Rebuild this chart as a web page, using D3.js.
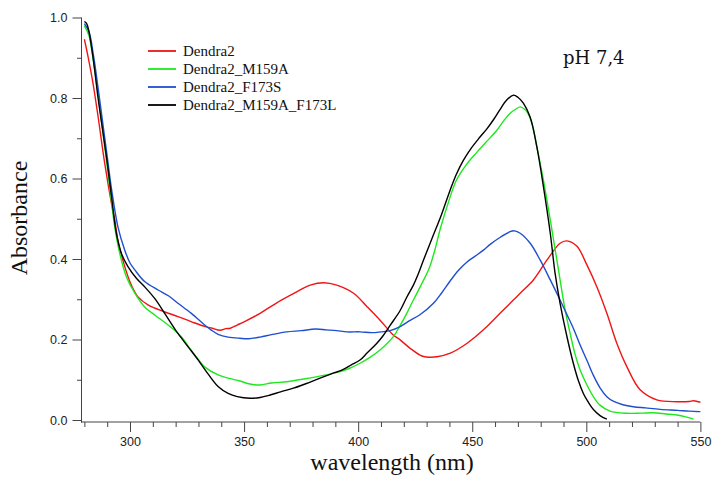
<!DOCTYPE html>
<html>
<head>
<meta charset="utf-8">
<script src="https://cdn.jsdelivr.net/npm/d3@7"></script>
<style>
  html, body { margin: 0; padding: 0; background: #fff; }
  svg { display: block; }
</style>
</head>
<body>
<svg id="chart" width="713" height="487"></svg>
<script>
// ---- data (wavelength nm, absorbance) ----
const seriesNames = ["Dendra2", "Dendra2_M159A", "Dendra2_F173S", "Dendra2_M159A_F173L"];
const seriesColors = ["#f01515", "#1ee81e", "#1f4fd0", "#000000"];

const dendra2 = [[280,0.946],[281.6,0.903],[283.8,0.836],[286,0.754],[288.9,0.638],[291.8,0.540],[293.3,0.497],[294.7,0.447],[297.7,0.381],[300.6,0.335],[303.5,0.306],[307.9,0.286],[315,0.269],[321,0.257],[327,0.244],[333,0.232],[336,0.228],[339.5,0.223],[342,0.227],[344,0.228],[347,0.236],[350,0.244],[357,0.265],[364,0.29],[372,0.315],[379,0.335],[385,0.341],[390.6,0.335],[398,0.315],[404,0.281],[409.6,0.248],[415.4,0.211],[418.4,0.199],[422.8,0.178],[427.9,0.159],[431,0.156],[434.5,0.157],[440.4,0.166],[447.6,0.19],[454.9,0.224],[462.2,0.265],[468,0.298],[471,0.315],[476.8,0.348],[482.7,0.397],[488.5,0.439],[491.4,0.445],[495.8,0.432],[500.2,0.386],[504.6,0.331],[509,0.265],[513.4,0.19],[517.8,0.132],[523.6,0.075],[530.9,0.050],[539.7,0.0455],[545,0.046],[547,0.048],[550,0.044]];

const m159a = [[280,0.98],[282,0.955],[284,0.89],[286,0.81],[288,0.72],[290,0.63],[291.8,0.547],[293.3,0.48],[295.5,0.414],[298.4,0.356],[302.1,0.315],[306.4,0.281],[310.8,0.261],[316.7,0.236],[322.5,0.207],[326.2,0.178],[330,0.15],[332.7,0.132],[338.6,0.112],[343,0.104],[348.2,0.097],[352,0.09],[357,0.087],[362,0.092],[368.7,0.095],[374,0.1],[380.4,0.106],[386,0.112],[392.1,0.12],[396,0.128],[400.8,0.141],[405,0.155],[409.6,0.174],[415.4,0.207],[418.4,0.235],[421.3,0.265],[424.2,0.298],[428,0.34],[431,0.375],[433.5,0.42],[436,0.475],[439.5,0.54],[443,0.595],[447.5,0.635],[452,0.665],[456,0.69],[460.8,0.72],[464,0.745],[466.6,0.762],[469,0.772],[471,0.778],[473,0.772],[474.6,0.76],[476.5,0.73],[478.3,0.679],[481.2,0.596],[484.2,0.497],[487.1,0.397],[488.5,0.348],[490.5,0.28],[492.9,0.215],[495,0.165],[497.3,0.124],[500,0.09],[503.1,0.058],[506,0.037],[510.4,0.022],[517.8,0.0166],[524,0.017],[529.4,0.018],[535,0.015],[539.7,0.0124],[544,0.007],[547,0.002]];

const f173s = [[280,0.985],[282,0.965],[284,0.905],[286,0.825],[288,0.74],[290,0.655],[292,0.57],[294.7,0.48],[297.7,0.422],[300,0.39],[302.1,0.373],[306.4,0.344],[312.3,0.323],[317,0.308],[321,0.29],[326.9,0.265],[332.7,0.236],[335.5,0.224],[338.6,0.213],[343,0.206],[348.2,0.203],[352,0.202],[357,0.206],[362,0.212],[368.7,0.219],[375,0.222],[381.3,0.226],[386,0.224],[390.6,0.222],[395,0.219],[400.8,0.219],[406,0.217],[410,0.219],[414,0.222],[418.4,0.232],[422,0.245],[427.2,0.262],[433,0.29],[436.5,0.315],[440.4,0.346],[444,0.372],[447.6,0.392],[451,0.406],[454.9,0.422],[458,0.437],[462.3,0.454],[466.6,0.468],[468.5,0.47],[471,0.464],[475.4,0.439],[479.8,0.397],[484.2,0.348],[488.5,0.298],[491.4,0.263],[494.3,0.228],[497,0.19],[500.2,0.149],[503,0.112],[506,0.08],[509,0.058],[512,0.046],[516,0.038],[520.6,0.033],[526,0.030],[532.4,0.0265],[540,0.024],[545,0.022],[550,0.0207]];

const m159aF173l = [[280,0.99],[281,0.985],[282,0.965],[283.3,0.92],[284.5,0.87],[286,0.80],[288,0.72],[290,0.64],[291.8,0.56],[294,0.464],[296.2,0.414],[299.1,0.381],[302.8,0.352],[306.4,0.331],[310.8,0.302],[315.2,0.265],[321,0.215],[326,0.178],[330,0.148],[333,0.124],[338.6,0.083],[343,0.066],[347,0.058],[352.6,0.054],[357,0.056],[361.4,0.062],[366,0.07],[371.6,0.079],[377,0.09],[383.3,0.104],[388,0.114],[393.5,0.126],[397,0.137],[400.8,0.149],[404,0.167],[408.1,0.19],[411,0.21],[414,0.235],[418.4,0.272],[421.3,0.305],[424.2,0.335],[426.5,0.365],[428.6,0.397],[433,0.46],[436.5,0.51],[440.3,0.571],[443,0.61],[446.1,0.645],[449.5,0.675],[453.4,0.703],[456.5,0.724],[459.3,0.746],[462,0.77],[465.1,0.795],[468,0.807],[470,0.802],[472.4,0.787],[475.4,0.752],[478.3,0.679],[481.2,0.58],[484.2,0.464],[486.3,0.365],[488.5,0.29],[491.4,0.21],[494.3,0.141],[496.5,0.098],[498.7,0.066],[501,0.043],[503.1,0.026],[506,0.011],[509,0.002]];

const seriesData = [dendra2, m159a, f173s, m159aF173l];

const yMajorTicks = [0, 0.2, 0.4, 0.6, 0.8, 1.0];
const yMinorTicks = [0.1, 0.3, 0.5, 0.7, 0.9];
const xMajorTicks = [300, 350, 400, 450, 500, 550];
const xMinorTicks = [280, 290, 310, 320, 330, 340, 360, 370, 380, 390, 410, 420, 430, 440, 460, 470, 480, 490, 510, 520, 530, 540];

const xLabel = "wavelength (nm)";
const yLabel = "Absorbance";
const annotation = "pH 7,4";

// ---- drawing ----
const svg = d3.select("#chart");
const x = d3.scaleLinear().domain([279, 550]).range([82.1, 700.4]);
const y = d3.scaleLinear().domain([0, 1]).range([420, 17.5]);
const axisColor = "#444";
const tickFont = "'Liberation Sans', Arial, sans-serif";
const serif = "'Liberation Serif', 'Times New Roman', serif";
const serif2 = "'DejaVu Serif', serif";

// Y axis
const yAxisX = 81.5;
const gy = svg.append("g").attr("transform", `translate(${yAxisX},0)`);
gy.append("line").attr("x1", 0).attr("x2", 0).attr("y1", y(1)).attr("y2", 422.5)
  .attr("stroke", axisColor).attr("stroke-width", 1);
gy.call(d3.axisLeft(y).tickValues(yMajorTicks).tickSize(9).tickSizeOuter(0).tickFormat(d3.format(".1f")))
  .call(g => g.select(".domain").remove())
  .call(g => g.selectAll(".tick line").attr("stroke", axisColor))
  .call(g => g.selectAll(".tick text").attr("x", -14).attr("fill", "#222")
      .style("font-family", tickFont).style("font-size", "12.5px"));
const gyMinor = svg.append("g").attr("transform", `translate(${yAxisX},0)`);
gyMinor.call(d3.axisLeft(y).tickValues(yMinorTicks).tickSize(4.5).tickFormat(""))
  .call(g => g.select(".domain").remove())
  .call(g => g.selectAll(".tick line").attr("stroke", axisColor));

// X axis
const xAxisY = 422;
const gx = svg.append("g").attr("transform", `translate(0,${xAxisY})`);
gx.append("line").attr("x1", 81).attr("x2", x(550)).attr("y1", 0).attr("y2", 0)
  .attr("stroke", axisColor).attr("stroke-width", 1);
gx.call(d3.axisBottom(x).tickValues(xMajorTicks).tickSize(10).tickSizeOuter(0).tickFormat(d3.format("d")))
  .call(g => g.select(".domain").remove())
  .call(g => g.selectAll(".tick line").attr("stroke", axisColor))
  .call(g => g.selectAll(".tick text").attr("y", 15).attr("fill", "#222")
      .style("font-family", tickFont).style("font-size", "12.5px"));
const gxMinor = svg.append("g").attr("transform", `translate(0,${xAxisY})`);
gxMinor.call(d3.axisBottom(x).tickValues(xMinorTicks).tickSize(5).tickFormat(""))
  .call(g => g.select(".domain").remove())
  .call(g => g.selectAll(".tick line").attr("stroke", axisColor));

// Axis labels
svg.append("text").attr("x", 392).attr("y", 470).attr("text-anchor", "middle")
  .style("font-family", serif).style("font-size", "24px").attr("fill", "#111").text(xLabel);
svg.append("text").attr("transform", "translate(27,218) rotate(-90)").attr("text-anchor", "middle")
  .style("font-family", serif).style("font-size", "24px").attr("fill", "#111").text(yLabel);

// Curves
const line = d3.line().x(d => x(d[0])).y(d => y(d[1])).curve(d3.curveCatmullRom.alpha(0.5));
svg.append("g").selectAll("path").data(seriesData).join("path")
  .attr("d", line).attr("fill", "none")
  .attr("stroke", (d, i) => seriesColors[i]).attr("stroke-width", 1.4)
  .attr("stroke-linejoin", "round");

// Legend
const legendRows = [51, 69, 87, 105];
const lg = svg.append("g");
seriesNames.forEach((name, i) => {
  lg.append("line").attr("x1", 148).attr("x2", 176).attr("y1", legendRows[i]).attr("y2", legendRows[i])
    .attr("stroke", seriesColors[i]).attr("stroke-width", 1.8);
  lg.append("text").attr("x", 183).attr("y", legendRows[i] + 5)
    .style("font-family", serif).style("font-size", "15px").attr("fill", "#111").text(name);
});

// Annotation
svg.append("text").attr("x", 563).attr("y", 63.5)
  .style("font-family", serif2).style("font-size", "18px").attr("fill", "#111").text(annotation);
</script>
</body>
</html>
